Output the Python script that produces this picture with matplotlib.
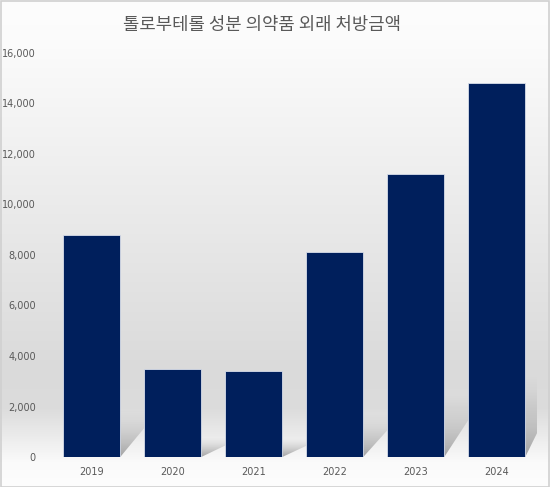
import numpy as np
import matplotlib
matplotlib.use("Agg")
import matplotlib.pyplot as plt
from matplotlib.patches import Polygon, Rectangle
from matplotlib.colors import LinearSegmentedColormap
from matplotlib.ticker import FuncFormatter

plt.rcParams['font.family'] = ['Noto Sans CJK KR', 'DejaVu Sans']

title = "톨로부테롤 성분 의약품 외래 처방금액"
years = ["2019", "2020", "2021", "2022", "2023", "2024"]
values = [8800, 3500, 3400, 8100, 11200, 14800]
yticks = [0, 2000, 4000, 6000, 8000, 10000, 12000, 14000, 16000]

W, H = 550, 487
fig = plt.figure(figsize=(W / 100, H / 100), dpi=100)

# background gradient
bg = fig.add_axes([0, 0, 1, 1], zorder=-10)
bg.set_axis_off()
pos = np.array([0.0, 0.10, 0.40, 0.76, 0.84, 0.95, 1.0])
col = np.array([253, 251, 236, 218, 220, 250, 253]) / 255.0
t = np.linspace(0, 1, 400)
g = np.interp(t, pos, col)
img = np.repeat(g[:, None], 2, axis=1)
rgb = np.dstack([img, img, img])
bg.imshow(rgb, aspect='auto', extent=[0, 1, 0, 1], origin='upper')
bg.set_xlim(0, 1)
bg.set_ylim(0, 1)
bg.add_patch(Rectangle((0.001, 0.001), 0.997, 0.997, transform=bg.transAxes,
                       fill=False, edgecolor='#d0d0d0', linewidth=1.2))

ax = fig.add_axes([51 / W, 1 - 457 / H, (537 - 51) / W, (457 - 53) / H])
ax.patch.set_alpha(0)
x = np.arange(len(years))
bw = 0.71

# soft shadows behind bars
shadow_cmap = LinearSegmentedColormap.from_list(
    'sh', [(0.5, 0.5, 0.5, 0.0), (0.5, 0.5, 0.5, 0.7)])
for xi, v in zip(x, values):
    h = 0.22 * v
    dx = 0.5
    pts = [(xi - bw / 2, 0), (xi + bw / 2, 0),
           (xi + bw / 2 + dx, h), (xi - bw / 2 + dx, h)]
    poly = Polygon(pts, closed=True, facecolor='none', edgecolor='none')
    ax.add_patch(poly)
    grad = (np.linspace(1, 0, 100) ** 1.4)[:, None] * np.ones((1, 2))
    im = ax.imshow(grad, cmap=shadow_cmap, vmin=0, vmax=1, aspect='auto',
                   extent=[xi - bw / 2, xi + bw / 2 + dx, 0, h],
                   origin='lower', zorder=1, interpolation='bilinear')
    im.set_clip_path(poly)

ax.bar(x, values, width=bw, color='#001f5c', edgecolor='#d8deea',
       linewidth=0.6, zorder=3)

ax.set_xlim(-0.5, len(years) - 0.5)
ax.set_ylim(0, 16000)
ax.set_yticks(yticks)
ax.yaxis.set_major_formatter(FuncFormatter(lambda v, p: f"{int(v):,}"))
ax.set_xticks(x)
ax.set_xticklabels(years)
for s in ax.spines.values():
    s.set_visible(False)
ax.tick_params(axis='both', length=0, labelsize=7, labelcolor='#595959')
ax.tick_params(axis='y', pad=11)
ax.tick_params(axis='x', pad=7)
for lab in ax.get_xticklabels() + ax.get_yticklabels():
    lab.set_family(['DejaVu Sans'])

fig.text(0.476, 1 - 25 / H, title, ha='center', va='center',
         fontsize=12.8, color='#595959')

fig.savefig("out.png", dpi=100)
